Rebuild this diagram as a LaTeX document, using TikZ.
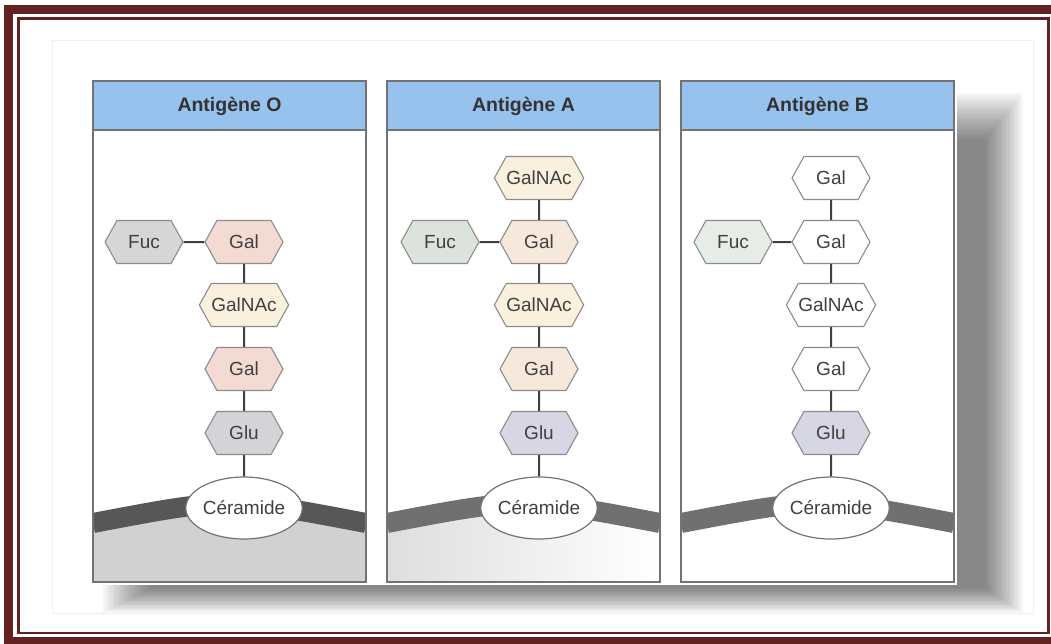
\documentclass[tikz,border=0pt]{standalone}
\usepackage{fontspec}
\setmainfont{Liberation Sans}
\usetikzlibrary{shapes.symbols,shapes.geometric}
\definecolor{framered}{RGB}{98,34,34}
\definecolor{headblue}{RGB}{152,194,238}
\definecolor{galpink}{RGB}{243,219,212}
\definecolor{galcream}{RGB}{250,240,222}
\definecolor{galpeach}{RGB}{247,232,220}
\definecolor{fucgray}{RGB}{214,214,214}
\definecolor{fucgreen}{RGB}{220,226,220}
\definecolor{fucpale}{RGB}{230,236,230}
\definecolor{glugray}{RGB}{212,212,216}
\definecolor{glulav}{RGB}{214,214,228}
\begin{document}
\begin{tikzpicture}[x=1pt, y=-1pt,
  sugar/.style={signal, signal to=east and west, signal pointer angle=122,
    draw=black!45, line width=1.1pt, minimum width=78pt, minimum height=43pt,
    inner sep=0pt, font=\fontsize{19}{20}\selectfont, text=black!75},
  ceramide/.style={ellipse, draw=black!55, line width=1.2pt, fill=white,
    minimum width=116pt, minimum height=62pt, inner sep=0pt,
    font=\fontsize{19}{20}\selectfont, text=black!75},
  link/.style={draw=black!75, line width=2pt},
  panel/.style={draw=black!55, line width=1.2pt},
  header/.style={font=\bfseries\fontsize{19.5}{20}\selectfont, text=black!80}]
\useasboundingbox (0,0) rectangle (1051,643);
% frame
\begin{scope}
  \clip (0,0) rectangle (1051,643);
  \draw[framered, line width=9pt] (8.5,9) rectangle (1062,641.5);
  \draw[framered, line width=2.5pt] (18.5,18.5) rectangle (1048.5,633);
\end{scope}
\draw[black!6] (52,40) rectangle (1033,613);
% shadow
\foreach \i in {0,...,19}
  \fill[black, fill opacity=0.032] (150-2.5*\i,140-2.5*\i) rectangle (985+2*\i,588+1.3*\i);
\fill[white] (88,76) rectangle (957,585);
% panels
\foreach \x/\name/\band in {93/O/black!66, 387/A/black!56, 681/B/black!56} {
  \fill[white] (\x,81) rectangle (\x+273,582);
  \begin{scope}
    \clip (\x,81) rectangle (\x+273,582);
    \ifnum\x=93
      \fill[black!18] (\x,523) .. controls (\x+136.5,497) .. (\x+273,523) -- (\x+273,582) -- (\x,582) -- cycle;
    \fi
    \ifnum\x=387
      \shade[left color=black!13, right color=white] (\x,523) .. controls (\x+136.5,497) .. (\x+273,523) -- (\x+273,582) -- (\x,582) -- cycle;
    \fi
    \draw[\band, line width=20pt] (\x,523) .. controls (\x+136.5,497) .. (\x+273,523);
  \end{scope}
  \fill[headblue] (\x,81) rectangle (\x+273,130);
  \draw[panel] (\x,130) -- (\x+273,130);
  \draw[panel] (\x,81) rectangle (\x+273,582);
  \node[header] at (\x+136.5,106) {Antigène \name};
}
% antigene O
\node[sugar, fill=fucgray] (o-fuc) at (144,242) {Fuc};
\node[sugar, fill=galpink] (o-gal1) at (244,242) {Gal};
\node[sugar, fill=galcream] (o-galnac) at (244,305) {GalNAc};
\node[sugar, fill=galpink] (o-gal2) at (244,369) {Gal};
\node[sugar, fill=glugray] (o-glu) at (244,433) {Glu};
\node[ceramide, minimum width=112pt] (o-cer) at (244,508) {Céramide};
\draw[link] (o-fuc) -- (o-gal1);
\draw[link] (o-gal1) -- (o-galnac);
\draw[link] (o-galnac) -- (o-gal2);
\draw[link] (o-gal2) -- (o-glu);
\draw[link] (o-glu) -- (o-cer);
% antigene A
\node[sugar, fill=galcream] (a-galnac1) at (539,178) {GalNAc};
\node[sugar, fill=fucgreen] (a-fuc) at (440,242) {Fuc};
\node[sugar, fill=galpeach] (a-gal1) at (539,242) {Gal};
\node[sugar, fill=galcream] (a-galnac2) at (539,305) {GalNAc};
\node[sugar, fill=galpeach] (a-gal2) at (539,369) {Gal};
\node[sugar, fill=glulav] (a-glu) at (539,433) {Glu};
\node[ceramide] (a-cer) at (539,508) {Céramide};
\draw[link] (a-galnac1) -- (a-gal1);
\draw[link] (a-fuc) -- (a-gal1);
\draw[link] (a-gal1) -- (a-galnac2);
\draw[link] (a-galnac2) -- (a-gal2);
\draw[link] (a-gal2) -- (a-glu);
\draw[link] (a-glu) -- (a-cer);
% antigene B
\node[sugar, fill=white] (b-gal1) at (831,178) {Gal};
\node[sugar, fill=fucpale] (b-fuc) at (733,242) {Fuc};
\node[sugar, fill=white] (b-gal2) at (831,242) {Gal};
\node[sugar, fill=white] (b-galnac) at (831,305) {GalNAc};
\node[sugar, fill=white] (b-gal3) at (831,369) {Gal};
\node[sugar, fill=glulav] (b-glu) at (831,433) {Glu};
\node[ceramide] (b-cer) at (831,508) {Céramide};
\draw[link] (b-gal1) -- (b-gal2);
\draw[link] (b-fuc) -- (b-gal2);
\draw[link] (b-gal2) -- (b-galnac);
\draw[link] (b-galnac) -- (b-gal3);
\draw[link] (b-gal3) -- (b-glu);
\draw[link] (b-glu) -- (b-cer);
\end{tikzpicture}
\end{document}
